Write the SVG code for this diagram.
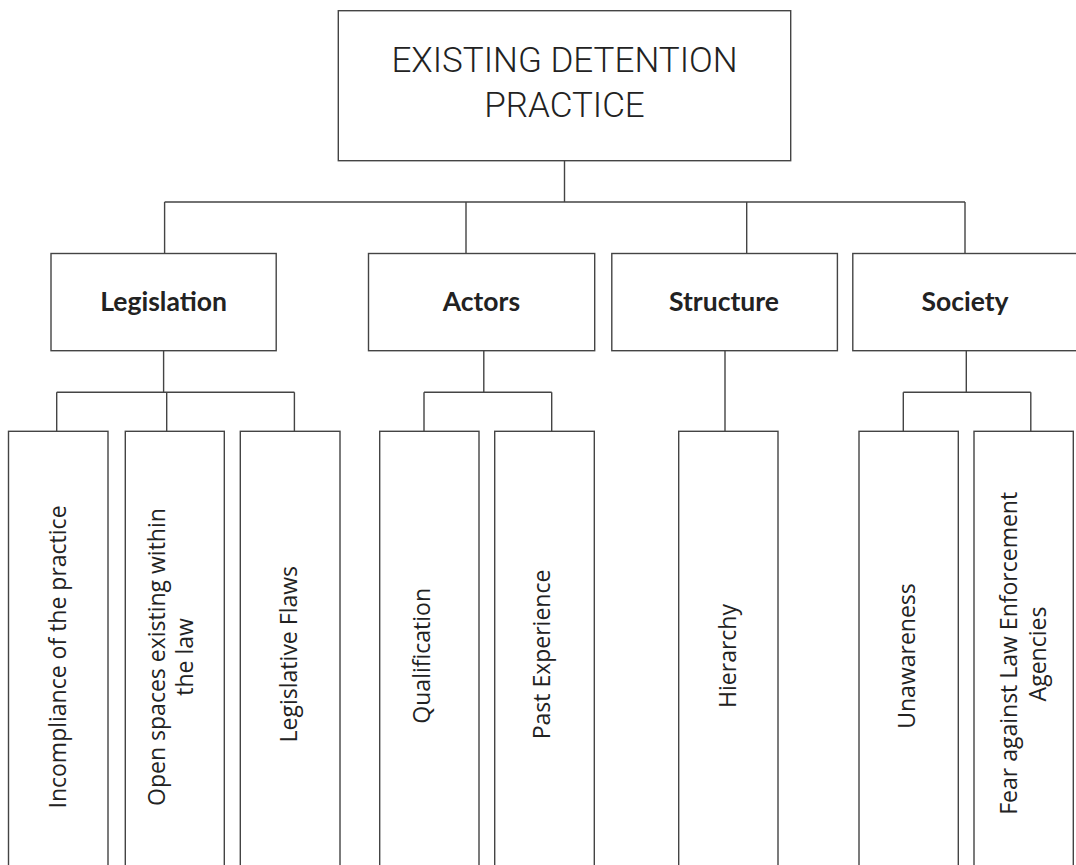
<svg xmlns="http://www.w3.org/2000/svg" width="1076" height="865" viewBox="0 0 1076 865">
<style>
.box{fill:#fff;stroke:#444;stroke-width:1.4}
.con{fill:none;stroke:#444;stroke-width:1.4}
.title{font-family:Roboto,"Liberation Sans",sans-serif;font-weight:300;font-size:35px;fill:#222;text-anchor:middle}
.cat{font-family:Lato,"Liberation Sans",sans-serif;font-weight:bold;font-size:26.5px;fill:#222;text-anchor:middle}
.leaf{font-family:"Open Sans","Liberation Sans",sans-serif;font-size:23px;fill:#222;text-anchor:middle}
</style>
<rect width="1076" height="865" fill="#fff"/>
<g id="connectors" class="con">
<path d="M564.5,160.7V202M164.6,202H965M164.6,202V253.5M466,202V253.5M746.7,202V253.5M965,202V253.5"/>
<path d="M163.6,350.7V392.3M56.7,392.3H294.4M56.7,392.3V431.3M166.7,392.3V431.3M294.4,392.3V431.3"/>
<path d="M483.8,350.7V392.3M424,392.3H551.7M424,392.3V431.3M551.7,392.3V431.3"/>
<path d="M725,350.7V431.3"/>
<path d="M966.3,350.7V392.3M903.3,392.3H1030.8M903.3,392.3V431.3M1030.8,392.3V431.3"/>
</g>
<g id="root">
<rect class="box" x="338.3" y="10.7" width="452.4" height="150"/>
<text class="title" x="564.5" y="71.7">EXISTING DETENTION</text>
<text class="title" x="564.5" y="116.7">PRACTICE</text>
</g>
<g id="legislation">
<rect class="box" x="51" y="253.5" width="225.2" height="97.2"/>
<text class="cat" x="163.6" y="310.7">Legislation</text>
</g>
<g id="actors">
<rect class="box" x="368.5" y="253.5" width="226.2" height="97.2"/>
<text class="cat" x="481.4" y="310.7">Actors</text>
</g>
<g id="structure">
<rect class="box" x="611.8" y="253.5" width="225.6" height="97.2"/>
<text class="cat" x="724" y="310.7">Structure</text>
</g>
<g id="society">
<rect class="box" x="852.8" y="253.5" width="226" height="97.2"/>
<text class="cat" x="965" y="310.7">Society</text>
</g>
<g id="leaf-incompliance">
<rect class="box" x="8.5" y="431.3" width="99.5" height="450"/>
<text class="leaf" transform="translate(65.7,657) rotate(-90)">Incompliance of the practice</text>
</g>
<g id="leaf-open-spaces">
<rect class="box" x="125.3" y="431.3" width="99" height="450"/>
<text class="leaf" transform="translate(164.5,657) rotate(-90)">Open spaces existing within</text>
<text class="leaf" transform="translate(193,657) rotate(-90)">the law</text>
</g>
<g id="leaf-flaws">
<rect class="box" x="240.3" y="431.3" width="99.7" height="450"/>
<text class="leaf" transform="translate(297.4,654.2) rotate(-90)">Legislative Flaws</text>
</g>
<g id="leaf-qualification">
<rect class="box" x="379.7" y="431.3" width="99.3" height="450"/>
<text class="leaf" transform="translate(429.5,655.8) rotate(-90)">Qualification</text>
</g>
<g id="leaf-experience">
<rect class="box" x="494.7" y="431.3" width="99.6" height="450"/>
<text class="leaf" transform="translate(550,654.5) rotate(-90)">Past Experience</text>
</g>
<g id="leaf-hierarchy">
<rect class="box" x="678.7" y="431.3" width="99.3" height="450"/>
<text class="leaf" transform="translate(736,656) rotate(-90)">Hierarchy</text>
</g>
<g id="leaf-unawareness">
<rect class="box" x="859" y="431.3" width="99.3" height="450"/>
<text class="leaf" transform="translate(915,656) rotate(-90)">Unawareness</text>
</g>
<g id="leaf-fear">
<rect class="box" x="974" y="431.3" width="99.3" height="450"/>
<text class="leaf" transform="translate(1017.4,653.3) rotate(-90)">Fear against Law Enforcement</text>
<text class="leaf" transform="translate(1045.7,654) rotate(-90)">Agencies</text>
</g>
</svg>
